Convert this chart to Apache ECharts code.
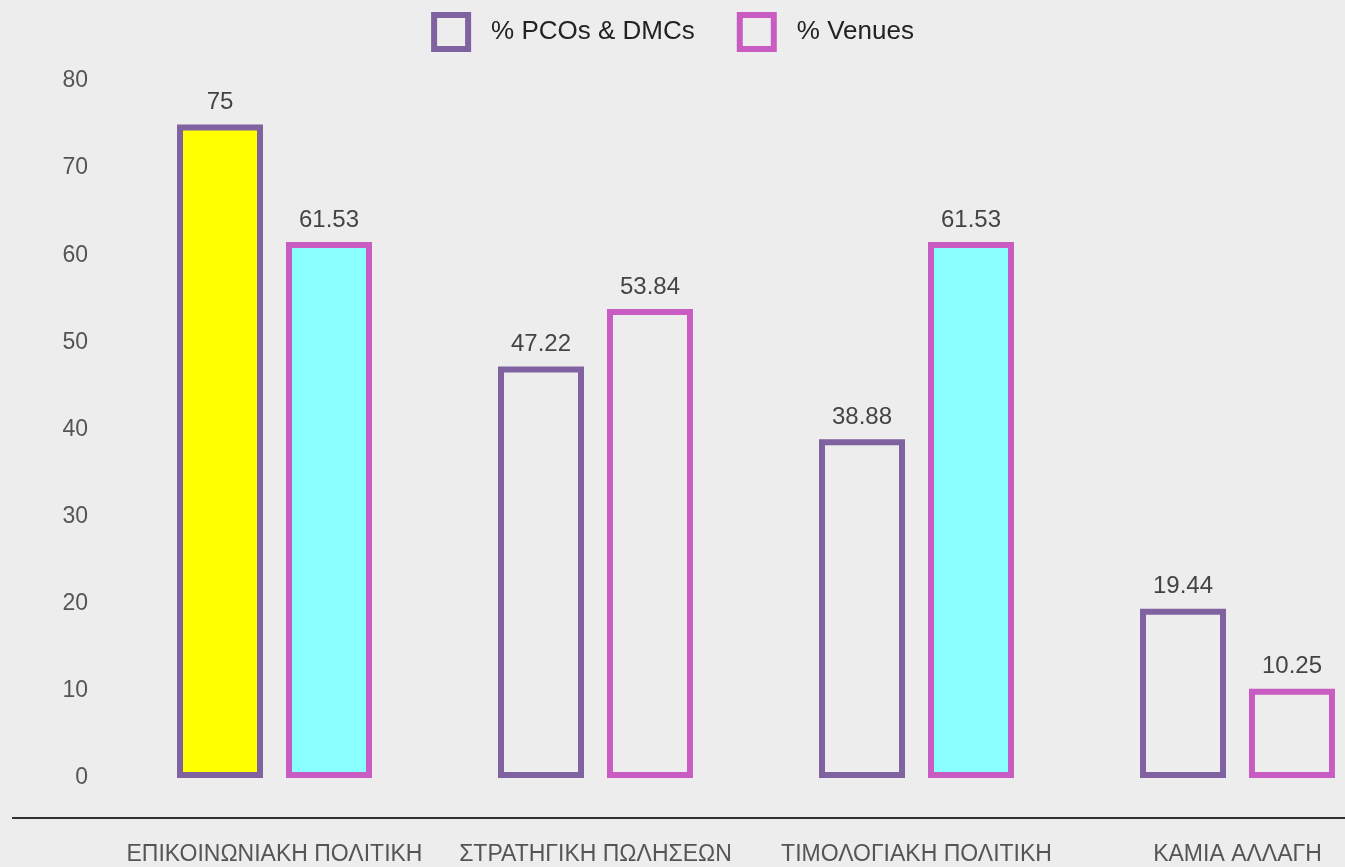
<!DOCTYPE html>
<html>
<head>
<meta charset="utf-8">
<script src="https://cdn.jsdelivr.net/npm/echarts@6/dist/echarts.min.js"></script>
<style>
html,body{margin:0;padding:0;background:#ededed;}
#c{width:1345px;height:867px;}
</style>
</head>
<body>
<div id="c"></div>
<script>
var categories = ['ΕΠΙΚΟΙΝΩΝΙΑΚΗ ΠΟΛΙΤΙΚΗ', 'ΣΤΡΑΤΗΓΙΚΗ ΠΩΛΗΣΕΩΝ', 'ΤΙΜΟΛΟΓΙΑΚΗ ΠΟΛΙΤΙΚΗ', 'ΚΑΜΙΑ ΑΛΛΑΓΗ'];
var seriesNames = ['% PCOs & DMCs', '% Venues'];
var pcoValues = [75, 47.22, 38.88, 19.44];
var venueValues = [61.53, 53.84, 61.53, 10.25];
var pcoFills = ['#ffff00', null, null, null];
var venueFills = ['#8affff', null, '#8affff', null];

var BG = '#ededed';
var PURPLE = '#8062a0';
var PINK = '#c95cc3';
var FONT = '"Liberation Sans", Arial, sans-serif';

function buildData(vals, fills) {
  return vals.map(function (v, i) {
    return { value: v, itemStyle: { color: fills[i] || BG } };
  });
}

var chart = echarts.init(document.getElementById('c'));
chart.setOption({
  backgroundColor: BG,
  animation: false,
  textStyle: { fontFamily: FONT },
  legend: {
    top: 7,
    left: 'center',
    itemWidth: 34,
    itemHeight: 34,
    itemGap: 42,
    textStyle: { fontSize: 26, color: '#222', fontFamily: FONT, padding: [0, 0, 0, 18] },
    data: [
      { name: seriesNames[0], icon: 'rect', itemStyle: { color: BG, borderColor: PURPLE, borderWidth: 6 } },
      { name: seriesNames[1], icon: 'rect', itemStyle: { color: BG, borderColor: PINK, borderWidth: 6 } }
    ]
  },
  grid: { left: 114, width: 1284, top: 81, bottom: 89, containLabel: false, outerBoundsMode: 'none' },
  xAxis: {
    type: 'category',
    data: categories,
    axisLine: { show: false },
    axisTick: { show: false },
    axisLabel: { interval: 0, margin: 65, fontSize: 23, color: '#555', fontFamily: FONT }
  },
  yAxis: {
    type: 'value',
    min: 0, max: 80, interval: 10,
    splitLine: { show: false },
    axisLine: { show: false },
    axisTick: { show: false },
    axisLabel: { margin: 26, fontSize: 23, color: '#555', fontFamily: FONT }
  },
  series: [
    {
      name: seriesNames[0], type: 'bar', barWidth: 86, barGap: '26.7%',
      itemStyle: { color: BG, borderColor: PURPLE, borderWidth: 6 },
      label: { show: true, position: 'top', distance: 10, fontSize: 24, color: '#444', fontFamily: FONT },
      data: buildData(pcoValues, pcoFills)
    },
    {
      name: seriesNames[1], type: 'bar', barWidth: 86, barGap: '26.7%',
      itemStyle: { color: BG, borderColor: PINK, borderWidth: 6 },
      label: { show: true, position: 'top', distance: 10, fontSize: 24, color: '#444', fontFamily: FONT },
      data: buildData(venueValues, venueFills)
    }
  ],
  graphic: [{
    type: 'line',
    shape: { x1: 12, y1: 818, x2: 1345, y2: 818 },
    style: { stroke: '#333', lineWidth: 2 }
  }]
});
</script>
</body>
</html>
